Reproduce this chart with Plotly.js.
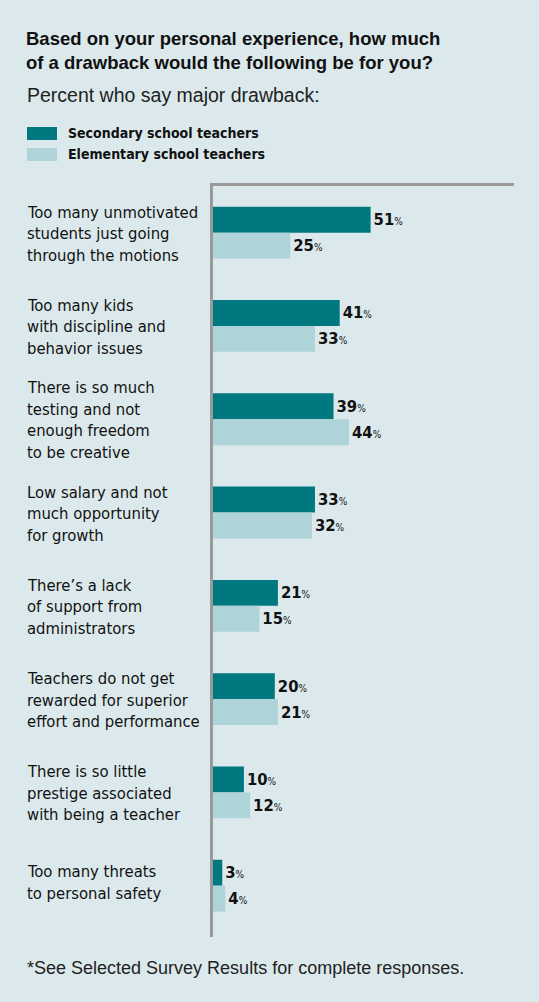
<!DOCTYPE html>
<html>
<head>
<meta charset="utf-8">
<script src="https://cdn.plot.ly/plotly-3.0.1.min.js"></script>
<style>
  html, body { margin: 0; padding: 0; background: #dce9ec; }
  #chart { width: 539px; height: 1002px; }
</style>
</head>
<body>
<div id="chart"></div>
<script>
// ---- Data ----
const categories = [
  "Too many unmotivated<br>students just going<br>through the motions",
  "Too many kids<br>with discipline and<br>behavior issues",
  "There is so much<br>testing and not<br>enough freedom<br>to be creative",
  "Low salary and not<br>much opportunity<br>for growth",
  "There\u2019s a lack<br>of support from<br>administrators",
  "Teachers do not get<br>rewarded for superior<br>effort and performance",
  "There is so little<br>prestige associated<br>with being a teacher",
  "Too many threats<br>to personal safety"
];
const seriesNames = ["Secondary school teachers", "Elementary school teachers"];
const secondary = [51, 41, 39, 33, 21, 20, 10, 3];
const elementary = [25, 33, 44, 32, 15, 21, 12, 4];
const titleText = "Based on your personal experience, how much<br>of a drawback would the following be for you?";
const subtitleText = "Percent who say major drawback:";
const footnoteText = "*See Selected Survey Results for complete responses.";

// ---- Style ----
const BG = "#dce9ec";
const TEAL = "#00787f";
const LIGHT = "#aed3d9";
const AXIS = "#9a9a9a";
const COND = "'Liberation Sans Narrow', 'DejaVu Sans Condensed', 'Roboto Condensed', 'Arial Narrow', sans-serif";
const REG = "'Liberation Sans', Arial, sans-serif";

const W = 539, H = 1002;
const M = { l: 213, r: 25, t: 186, b: 65 };
const PW = W - M.l - M.r, PH = H - M.t - M.b;
const xp = px => (px - M.l) / PW;
const yp = py => (M.t + PH - py) / PH;

const idx = categories.map((_, i) => i);

const valTpl = '<b>%{x}</b><span style="font-size:10px">%</span>';

const traces = [
  {
    type: "bar", orientation: "h", name: seriesNames[0],
    y: idx, x: secondary, marker: { color: TEAL },
    texttemplate: valTpl, textposition: "outside", cliponaxis: false,
    constraintext: "none",
    textfont: { family: COND, size: 16.5, color: "#111" },
    hoverinfo: "skip"
  },
  {
    type: "bar", orientation: "h", name: seriesNames[1],
    y: idx, x: elementary, marker: { color: LIGHT },
    texttemplate: valTpl, textposition: "outside", cliponaxis: false,
    constraintext: "none",
    textfont: { family: COND, size: 16.5, color: "#111" },
    hoverinfo: "skip"
  }
];

const annotations = [];
const LINE = 21.5;
categories.forEach((c, i) => {
  const lines = c.split("<br>");
  const n = lines.length;
  lines.forEach((ln, k) => {
    annotations.push({
      xref: "paper", yref: "y", x: xp(25), y: i,
      xanchor: "left", yanchor: "middle", align: "left",
      yshift: ((n - 1) / 2 - k) * LINE - 1 + (n === 2 ? 4 : 0),
      text: ln, showarrow: false,
      font: { family: COND, size: 16.5, color: "#111" }
    });
  });
});

// subtitle
annotations.push({
  xref: "paper", yref: "paper", x: xp(25), y: yp(95),
  xanchor: "left", yanchor: "middle", showarrow: false,
  text: subtitleText, font: { family: REG, size: 19.5, color: "#222" }
});
// legend labels
[133, 154].forEach((py, i) => {
  annotations.push({
    xref: "paper", yref: "paper", x: xp(66), y: yp(py),
    xanchor: "left", yanchor: "middle", showarrow: false,
    text: "<b>" + seriesNames[i] + "</b>",
    font: { family: COND, size: 14, color: "#111" }
  });
});
// footnote
annotations.push({
  xref: "paper", yref: "paper", x: xp(25), y: yp(968),
  xanchor: "left", yanchor: "middle", showarrow: false,
  text: footnoteText, font: { family: REG, size: 18, color: "#222" }
});

const shapes = [
  { type: "rect", xref: "paper", yref: "paper", x0: xp(27), x1: xp(57), y0: yp(127), y1: yp(140), fillcolor: TEAL, line: { width: 0 } },
  { type: "rect", xref: "paper", yref: "paper", x0: xp(27), x1: xp(57), y0: yp(148), y1: yp(161), fillcolor: LIGHT, line: { width: 0 } }
];

const layout = {
  width: W, height: H,
  margin: M,
  paper_bgcolor: BG, plot_bgcolor: BG,
  showlegend: false,
  barmode: "group", bargap: 0.444, bargroupgap: 0,
  title: {
    text: "<b>" + titleText + "</b>",
    x: 26 / W, xanchor: "left", xref: "container",
    y: 1 - 45 / H, yanchor: "top", yref: "container",
    font: { family: REG, size: 18.5, color: "#111" }
  },
  xaxis: {
    range: [0, 97.4], side: "top",
    showline: true, linecolor: AXIS, linewidth: 3,
    showgrid: false, zeroline: false, showticklabels: false, ticks: ""
  },
  yaxis: {
    range: [7.55, -0.5],
    showline: true, linecolor: AXIS, linewidth: 3,
    showgrid: false, zeroline: false, showticklabels: false, ticks: ""
  },
  annotations: annotations,
  shapes: shapes
};

Plotly.newPlot("chart", traces, layout, { displayModeBar: false, staticPlot: true });
</script>
</body>
</html>
